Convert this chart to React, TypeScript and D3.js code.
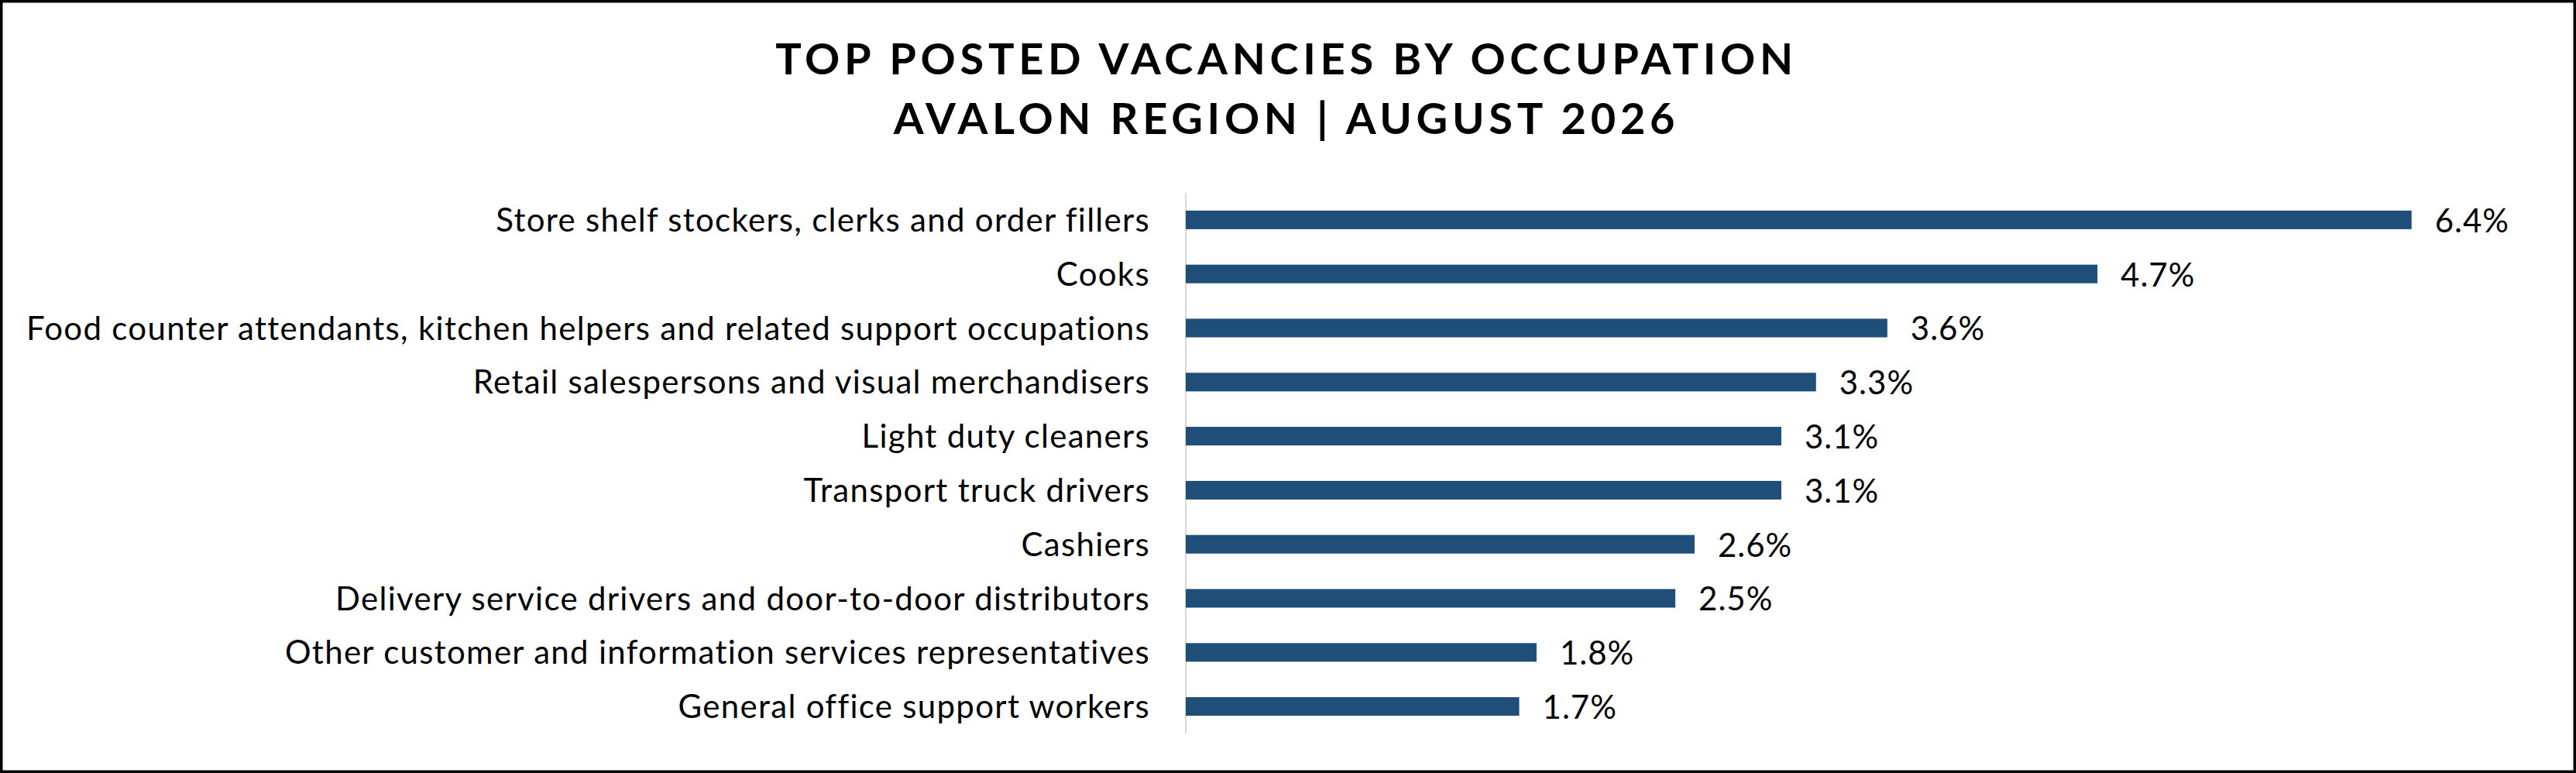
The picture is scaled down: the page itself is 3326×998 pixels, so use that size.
import React from 'react';
import * as d3 from 'd3';

const occupations = [
  'Store shelf stockers, clerks and order fillers',
  'Cooks',
  'Food counter attendants, kitchen helpers and related support occupations',
  'Retail salespersons and visual merchandisers',
  'Light duty cleaners',
  'Transport truck drivers',
  'Cashiers',
  'Delivery service drivers and door-to-door distributors',
  'Other customer and information services representatives',
  'General office support workers',
];

const shares = [6.36, 4.73, 3.64, 3.27, 3.09, 3.09, 2.64, 2.54, 1.82, 1.73];

const titleLines = ['TOP POSTED VACANCIES BY OCCUPATION', 'AVALON REGION | AUGUST 2026'];

const W = 3326;
const H = 998;
const barColor = '#1F4E79';
const font = 'Lato, "Open Sans", sans-serif';

const App: React.FC = () => {
  const x = d3.scaleLinear().domain([0, 7]).range([1531, 3273]);
  const y = d3.scaleBand<string>()
    .domain(occupations)
    .range([249, 947])
    .paddingInner(0.656)
    .paddingOuter(0.328);
  const fmt = (v: number) => `${d3.format('.1f')(v)}%`;

  return (
    <svg
      width={W}
      height={H}
      style={{ position: 'absolute', left: 0, top: 0, background: '#fff' }}
    >
      <rect x={1.75} y={1.75} width={W - 3.5} height={H - 3.5} fill="#fff" stroke="#000" strokeWidth={3.5} />

      {/* title, two lines */}
      {titleLines.map((t, i) => (
        <text
          key={t}
          x={1661}
          y={96 + i * 77}
          textAnchor="middle"
          fontFamily={font}
          fontWeight={700}
          fontSize={56}
          letterSpacing={5.7}
          fill="#000"
        >
          {t}
        </text>
      ))}

      {/* category axis line */}
      <line x1={x(0)} x2={x(0)} y1={249} y2={947} stroke="#d9d9d9" strokeWidth={2} />

      {occupations.map((c, i) => {
        const cy = (y(c) as number) + y.bandwidth() / 2;
        return (
          <g key={c}>
            <text
              x={x(0) - 46}
              y={cy}
              dy="0.36em"
              textAnchor="end"
              fontFamily={font}
              fontSize={42}
              letterSpacing={1.3}
              fill="#000"
            >
              {c}
            </text>
            <rect
              x={x(0)}
              y={y(c)}
              width={x(shares[i]) - x(0)}
              height={y.bandwidth()}
              fill={barColor}
            />
            <text
              x={x(shares[i]) + 30}
              y={cy}
              dy="0.38em"
              fontFamily={font}
              fontSize={42}
              letterSpacing={1}
              fill="#000"
            >
              {fmt(shares[i])}
            </text>
          </g>
        );
      })}
    </svg>
  );
};

export default App;
